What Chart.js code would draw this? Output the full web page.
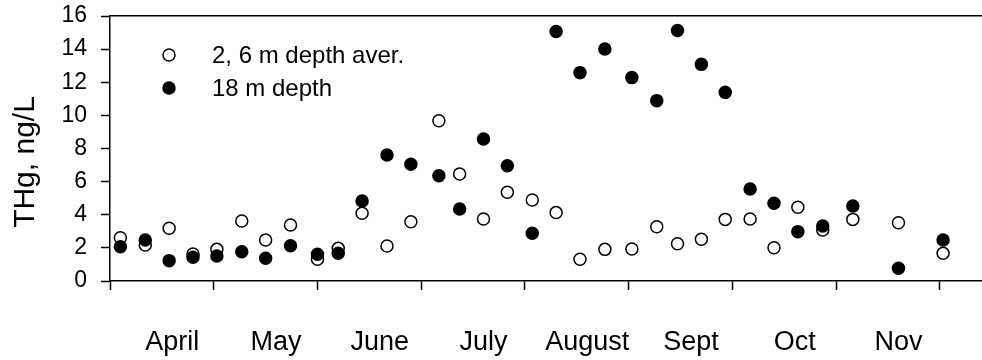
<!DOCTYPE html>
<html>
<head>
<meta charset="utf-8">
<script src="https://cdn.jsdelivr.net/npm/chart.js@4.4.0/dist/chart.umd.min.js"></script>
<style>
    html, body { margin: 0; padding: 0; background: #fff; }
    #wrap { width: 982px; height: 360px; position: relative; }
</style>
</head>
<body>
<div id="wrap"><canvas id="thgChart"></canvas></div>
<script>
const MONTH_LABELS = ['April', 'May', 'June', 'July', 'August', 'Sept', 'Oct', 'Nov'];
const SERIES_NAMES = ['2, 6 m depth aver.', '18 m depth'];
const Y_TITLE = 'THg, ng/L';

// sampling dates, in months counted from 1 April
const SAMPLE_MONTHS = [
    0.10, 0.34, 0.57, 0.80, 1.03, 1.27, 1.50, 1.74, 2.00, 2.20, 2.43,
    2.67, 2.90, 3.17, 3.37, 3.60, 3.83, 4.07, 4.30, 4.53, 4.77, 5.03,
    5.27, 5.47, 5.70, 5.93, 6.17, 6.40, 6.63, 6.87, 7.16, 7.60, 8.03];

// THg, ng/L
const SURFACE_THG = [
    2.61, 2.17, 3.18, 1.63, 1.91, 3.62, 2.48, 3.38, 1.31, 1.97, 4.09,
    2.11, 3.58, 9.68, 6.46, 3.74, 5.36, 4.89, 4.13, 1.31, 1.91, 1.93,
    3.28, 2.25, 2.52, 3.72, 3.74, 2.01, 4.45, 3.08, 3.72, 3.52, 1.67];
const DEEP_THG = [
    2.07, 2.48, 1.23, 1.43, 1.51, 1.77, 1.37, 2.13, 1.61, 1.67, 4.83,
    7.61, 7.05, 6.36, 4.35, 8.57, 6.96, 2.88, 15.06, 12.58, 14.01, 12.28,
    10.89, 15.12, 13.08, 11.39, 5.56, 4.69, 2.98, 3.32, 4.53, 0.77, 2.48];

const Y_MIN = 0, Y_MAX = 16, Y_STEP = 2;
const X_MAX = 8.405;

const FONT = "'Liberation Sans', Arial, sans-serif";

function toPoints(xs, ys) {
    return xs.map((x, i) => ({x: x, y: ys[i]}));
}

// month boundaries get a tick mark, the month names sit a bit right of the middle
const LABEL_OFFSET = 0.6;
const X_TICKS = [];
for (let i = 0; i <= MONTH_LABELS.length; i++) {
    X_TICKS.push(i);
    if (i < MONTH_LABELS.length) X_TICKS.push(i + LABEL_OFFSET);
}

// legend inside the plot (top left, two rows) and the y title
const extraText = {
    id: 'extraText',
    afterDraw(chart) {
        const ctx = chart.ctx;
        const area = chart.chartArea;
        ctx.save();
        ctx.font = '24px ' + FONT;
        ctx.textBaseline = 'middle';
        ctx.textAlign = 'left';
        chart.data.datasets.forEach((ds, i) => {
            const y = area.top + 39 + i * 33;
            const x = area.left + 59;
            ctx.beginPath();
            ctx.arc(x, y, 6, 0, Math.PI * 2);
            ctx.fillStyle = ds.backgroundColor;
            ctx.fill();
            ctx.lineWidth = 1.5;
            ctx.strokeStyle = ds.borderColor;
            ctx.stroke();
            ctx.fillStyle = '#000';
            ctx.fillText(ds.label, area.left + 102, y + 1);
        });

        ctx.translate(26, 162);
        ctx.rotate(-Math.PI / 2);
        ctx.font = '30px ' + FONT;
        ctx.textAlign = 'center';
        ctx.fillText(Y_TITLE, 0, 0);
        ctx.restore();
    }
};

const ctx = document.getElementById('thgChart').getContext('2d');
new Chart(ctx, {
    type: 'scatter',
    data: {
        datasets: [
            {
                label: SERIES_NAMES[0],
                data: toPoints(SAMPLE_MONTHS, SURFACE_THG),
                backgroundColor: '#ffffff',
                borderColor: '#000000',
                borderWidth: 1.5,
                pointRadius: 6,
                order: 1
            },
            {
                label: SERIES_NAMES[1],
                data: toPoints(SAMPLE_MONTHS, DEEP_THG),
                backgroundColor: '#000000',
                borderColor: '#000000',
                borderWidth: 1.5,
                pointRadius: 6,
                order: 0
            }
        ]
    },
    options: {
        responsive: true,
        maintainAspectRatio: false,
        animation: false,
        layout: {
            autoPadding: false,
            padding: { top: 16, right: 0, bottom: 0, left: 0 }
        },
        plugins: {
            legend: { display: false },
            tooltip: { enabled: false }
        },
        scales: {
            x: {
                type: 'linear',
                position: 'bottom',
                min: 0,
                max: X_MAX,
                afterBuildTicks(axis) {
                    axis.ticks = X_TICKS.map(v => ({value: v}));
                },
                afterFit(axis) {
                    axis.height = 79;
                    axis.paddingLeft = 0;
                    axis.paddingRight = 0;
                },
                ticks: {
                    autoSkip: false,
                    maxRotation: 0,
                    padding: 36,
                    color: '#000',
                    font: { family: FONT, size: 27 },
                    callback: v => Number.isInteger(v) ? '' : MONTH_LABELS[Math.floor(v)]
                },
                grid: {
                    drawOnChartArea: false,
                    tickLength: 9,
                    tickWidth: 1.5,
                    tickColor: c => Number.isInteger(c.tick.value) ? '#000' : 'rgba(0,0,0,0)'
                },
                border: { color: '#000', width: 1.5 }
            },
            xTop: {
                type: 'linear',
                position: 'top',
                min: 0,
                max: X_MAX,
                afterFit(axis) {
                    axis.height = 0;
                    axis.paddingLeft = 0;
                    axis.paddingRight = 0;
                },
                ticks: { display: false },
                grid: { display: false },
                border: { display: true, color: '#000', width: 1.5 }
            },
            y: {
                min: Y_MIN,
                max: Y_MAX,
                afterFit(axis) {
                    axis.width = 110;
                    axis.paddingTop = 0;
                    axis.paddingBottom = 0;
                },
                ticks: {
                    stepSize: Y_STEP,
                    padding: 14,
                    color: '#000',
                    font: { family: FONT, size: 23 }
                },
                grid: {
                    drawOnChartArea: false,
                    tickLength: 9,
                    tickWidth: 1.5,
                    tickColor: '#000'
                },
                border: { color: '#000', width: 1.5 }
            }
        }
    },
    plugins: [extraText]
});
</script>
</body>
</html>
